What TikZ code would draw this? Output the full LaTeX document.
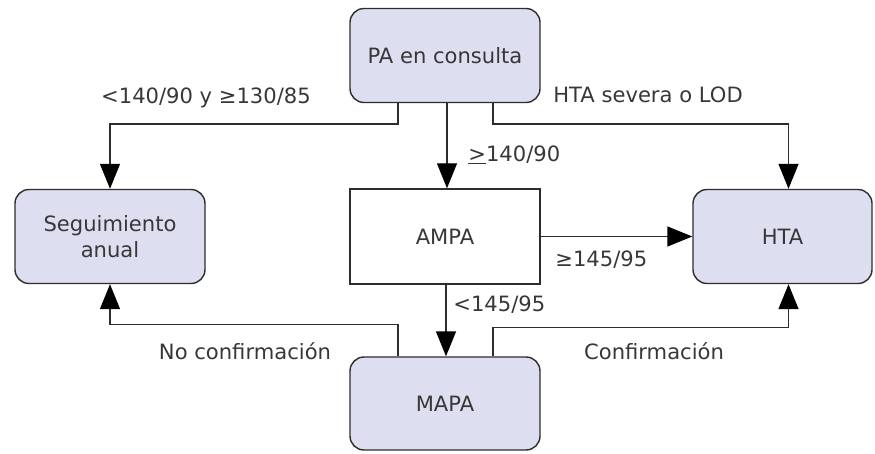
\documentclass[tikz,border=0pt]{standalone}
\usepackage{fontspec}
\setmainfont{DejaVu Sans}
\usepackage{tikz}
\usetikzlibrary{arrows.meta}

\definecolor{cajafondo}{RGB}{221,223,240}
\definecolor{borde}{RGB}{45,45,45}
\definecolor{texto}{RGB}{55,55,55}

\tikzset{
  cajaredonda/.style={draw=borde, line width=0.8pt, fill=cajafondo, rounded corners=0.28cm,
    minimum width=3.8cm, minimum height=1.88cm, align=center, text=texto,
    font=\fontsize{12}{15}\selectfont},
  caja/.style={draw=borde, line width=0.8pt, fill=white,
    minimum width=3.8cm, minimum height=1.9cm, align=center, text=texto,
    font=\fontsize{12}{15}\selectfont},
  flecha/.style={draw=borde, line width=0.8pt,
    -{Triangle[length=0.5cm, width=0.4cm, color=black]}},
  etiqueta/.style={text=texto, font=\fontsize{12}{15}\selectfont, inner sep=0pt}
}

\begin{document}
\begin{tikzpicture}
\useasboundingbox (0,0) rectangle (17.5,9.06);
\node[cajaredonda] (pa) at (8.9, 7.95) {PA en consulta};
\node[cajaredonda] (seg) at (2.2, 4.33) {Seguimiento\\anual};
\node[caja] (ampa) at (8.9, 4.33) {AMPA};
\node[cajaredonda, minimum width=3.58cm] (hta) at (15.65, 4.33) {HTA};
\node[cajaredonda, minimum height=1.86cm] (mapa) at (8.9, 0.99) {MAPA};

\draw[flecha] ([xshift=-0.94cm]pa.south) -- ++(0,-0.42) -| (seg.north);
\draw[flecha] ([xshift=0.04cm]pa.south) -- ([xshift=0.04cm]ampa.north);
\draw[flecha] ([xshift=0.96cm]pa.south) -- ++(0,-0.42) -| ([xshift=0.12cm]hta.north);
\draw[flecha] (ampa.east) -- (hta.west);
\draw[flecha] ([xshift=0.02cm]ampa.south) -- ([xshift=0.02cm]mapa.north);
\draw[flecha] ([xshift=-0.94cm]mapa.north) -- ++(0,0.64) -| (seg.south);
\draw[flecha] ([xshift=0.96cm]mapa.north) -- ++(0,0.58) -| ([xshift=0.12cm]hta.south);

\node[etiqueta] (e1) at (4.12, 7.1) {<140/90 y ≥130/85};
\node[etiqueta, anchor=west] (e2) at (11.06, 7.16) {HTA severa o LOD};
\node[etiqueta, anchor=west] (e3) at (9.36, 5.96) {\underline{>}140/90};
\node[etiqueta, anchor=west] (e4) at (11.1, 3.86) {≥145/95};
\node[etiqueta, anchor=west] (e5) at (9.06, 2.96) {<145/95};
\node[etiqueta] (e6) at (4.9, 2.04) {No confirmación};
\node[etiqueta] (e7) at (13.08, 2.04) {Confirmación};
\end{tikzpicture}
\end{document}
